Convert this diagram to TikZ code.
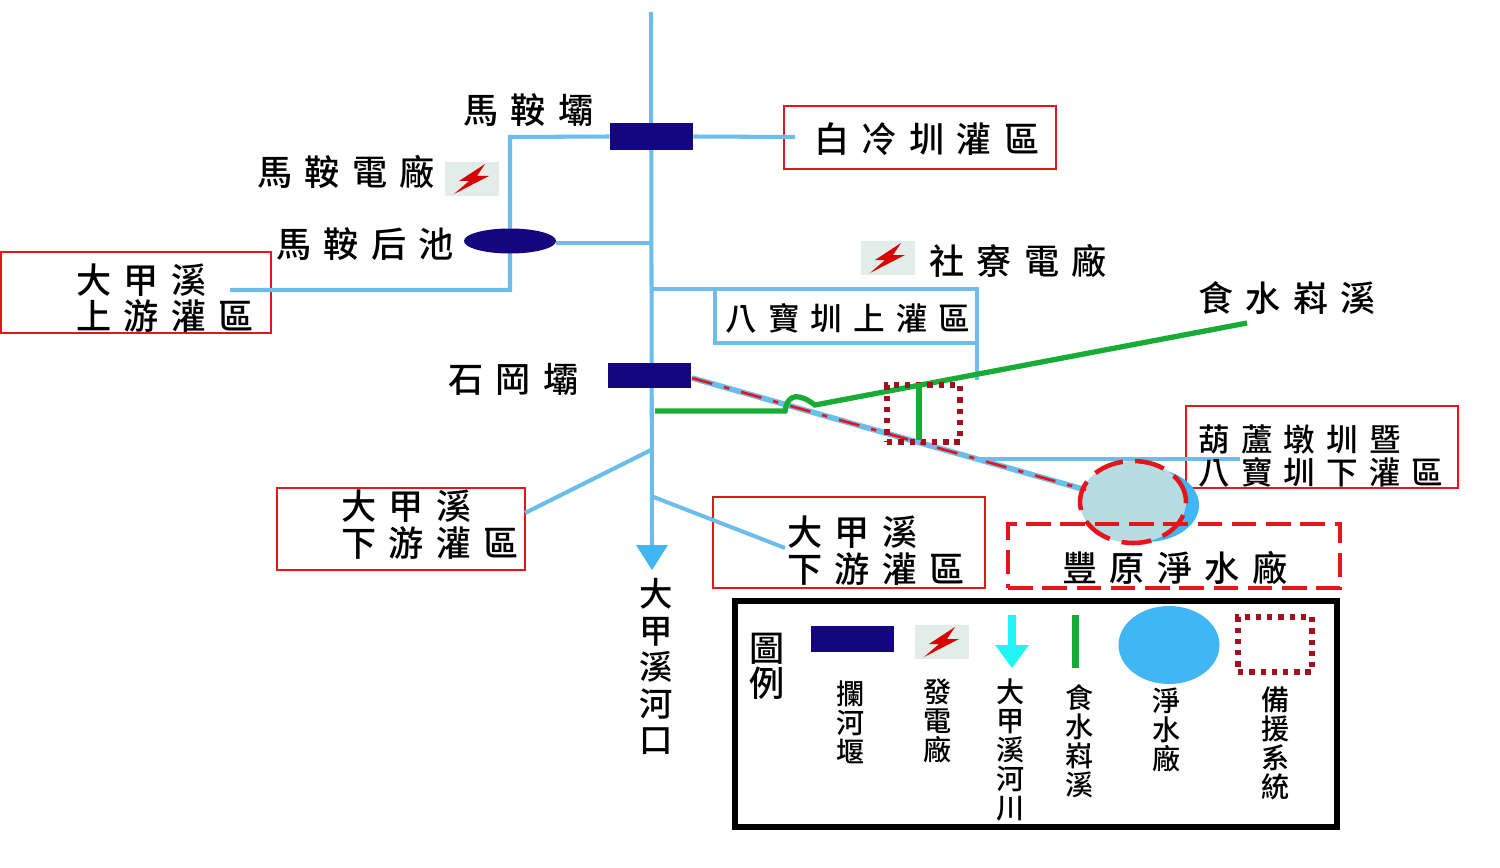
\documentclass[tikz,border=0pt]{standalone}
\usepackage{fontspec}
\usetikzlibrary{shapes.geometric}
\setmainfont{Noto Sans CJK TC Medium}[LetterSpace=35]
\definecolor{riverblue}{HTML}{6CBDEA}
\definecolor{damblue}{HTML}{14067E}
\definecolor{plantblue}{HTML}{41B6F4}
\definecolor{lakegreen}{HTML}{B5DCE0}
\definecolor{streamgreen}{HTML}{17AC35}
\definecolor{boxred}{HTML}{E8141C}
\definecolor{backupred}{HTML}{A3101F}
\definecolor{keycyan}{HTML}{20F4F4}
\definecolor{iconback}{HTML}{E2ECE8}
\tikzset{
  river/.style={draw=riverblue, line width=2.3pt},
  stream/.style={draw=streamgreen, line width=3pt},
  dam/.style={fill=damblue, inner sep=0pt},
  redbox/.style={draw=boxred, line width=1.2pt, inner sep=0pt},
  backupbox/.style={draw=backupred, line width=3.4pt, dash pattern=on 3pt off 3.4pt, inner sep=0pt},
  bigtext/.style={font=\fontsize{20}{22}\selectfont, inner sep=0pt, anchor=west},
  midtext/.style={font=\fontsize{18}{20}\selectfont, inner sep=0pt, anchor=west},
  keytext/.style={font=\fontsize{16}{16.6}\selectfont, inner sep=0pt, align=center, anchor=north},
  bolt/.pic={
    \fill[iconback] (-27,-17) rectangle (27,17);
    \fill[red!85!black] (13,-15) -- (-13,2) -- (-3,2) -- (-18,15) -- (17,-3) -- (5,-3) -- cycle;
  }
}
\begin{document}
\begin{tikzpicture}[x=0.02cm, y=-0.02cm]
  \useasboundingbox (0,0) rectangle (1500,868);

  % main river
  \coordinate (rivertop) at (651,12);
  \coordinate (riverend) at (652,548);
  \draw[river] (rivertop) -- (riverend);
  \fill[plantblue] (636,545) -- (668,545) -- (652,570) -- cycle;

  % upper branches
  \node[dam, minimum width=83*0.02cm, minimum height=27*0.02cm] (madam) at (651.5,136.5) {};
  \node[redbox, minimum width=272*0.02cm, minimum height=63*0.02cm] (baileng) at (920,137.5) {};
  \node[redbox, minimum width=270*0.02cm, minimum height=81*0.02cm] (upper) at (136,292.5) {};
  \coordinate (bend) at (510,137);
  \coordinate (bendlow) at (510,290);
  \coordinate (upperend) at (230,290);
  \coordinate (bailengend) at (795,137);
  \coordinate (pondjoin) at (651,243);
  \draw[river] (madam.west) -- (bend) -- (bendlow) -- (upperend);
  \draw[river] (madam.east) -- (bailengend);
  \node[ellipse, fill=damblue, inner sep=0pt, minimum width=92*0.02cm, minimum height=25*0.02cm] (pond) at (510,241) {};
  \draw[river] (pond.east |- pondjoin) -- (pondjoin);

  % babao loop
  \coordinate (loopa) at (651,289);
  \coordinate (loopb) at (977,289);
  \coordinate (loopc) at (977,380);
  \coordinate (loopd) at (715,289);
  \coordinate (loope) at (715,343);
  \coordinate (loopf) at (977,343);
  \draw[river] (loopa) -- (loopb) -- (loopc);
  \draw[river] (loopd) -- (loope) -- (loopf);

  % lower branches
  \node[dam, minimum width=83*0.02cm, minimum height=25*0.02cm] (shidam) at (649.5,375.5) {};
  \node[redbox, minimum width=248*0.02cm, minimum height=82*0.02cm] (lowleft) at (401,529) {};
  \node[redbox, minimum width=272*0.02cm, minimum height=91*0.02cm] (lowright) at (849,542.5) {};
  \node[redbox, minimum width=272*0.02cm, minimum height=82*0.02cm] (hulu) at (1322,447) {};
  \coordinate (lefta) at (651,450);
  \coordinate (leftb) at (525,513);
  \coordinate (righta) at (651,496);
  \coordinate (rightb) at (785,548);
  \draw[river] (lefta) -- (leftb);
  \draw[river] (righta) -- (rightb);

  % plant
  \node[ellipse, fill=plantblue, inner sep=0pt, minimum width=106*0.02cm, minimum height=74*0.02cm] (plantback) at (1146,505) {};
  \coordinate (diaga) at (692,378);
  \coordinate (diagb) at (1086,490);
  \coordinate (hulua) at (980,459);
  \coordinate (hulub) at (1240,459);
  \draw[river, line width=3.2pt] (diaga) -- (diagb);
  \draw[river] (hulua) -- (hulub);
  \node[ellipse, fill=lakegreen, draw=boxred, line width=2.6pt, dash pattern=on 17pt off 7pt, inner sep=0pt, minimum width=106*0.02cm, minimum height=82*0.02cm] (plant) at (1133,502) {};
  \draw[boxred, line width=1.5pt, dash pattern=on 12pt off 7pt on 3pt off 7pt] (diaga) -- (diagb);
  \node[draw=boxred, line width=2.4pt, dash pattern=on 14pt off 5.5pt, inner sep=0pt, minimum width=332*0.02cm, minimum height=64*0.02cm] (plantbox) at (1174,556) {};

  % stream
  \coordinate (streama) at (655,411);
  \coordinate (streamb) at (785,411);
  \coordinate (streamc) at (815,405);
  \coordinate (streamd) at (1247,323);
  \coordinate (sidea) at (919,383);
  \coordinate (sideb) at (919,440);
  \draw[stream] (streama) -- (streamb) .. controls (788,392) and (800,394) .. (streamc) -- (streamd);
  \node[backupbox, minimum width=73*0.02cm, minimum height=57*0.02cm] (backup) at (923.5,413.5) {};
  \draw[stream] (sidea) -- (sideb);

  % icons
  \pic (boltma) at (472,179) {bolt};
  \pic (boltshe) at (888,258) {bolt};

  % labels
  \node[bigtext] (lma) at (463,110) {馬鞍壩};
  \node[bigtext] (lmp) at (257,172) {馬鞍電廠};
  \node[bigtext] (lmh) at (276,244) {馬鞍后池};
  \node[bigtext] (lbl) at (814,139) {白冷圳灌區};
  \node[bigtext] (lsh) at (929,261) {社寮電廠};
  \node[bigtext] (lsw) at (1198,298) {食水嵙溪};
  \node[bigtext] (lsg) at (448,379) {石岡壩};
  \node[bigtext] (lupa) at (76,280) {大甲溪};
  \node[bigtext] (lupb) at (76,316) {上游灌區};
  \node[midtext] (lbb) at (725,318) {八寶圳上灌區};
  \node[midtext] (lhua) at (1198,440) {葫蘆墩圳暨};
  \node[midtext] (lhub) at (1198,472) {八寶圳下灌區};
  \node[bigtext] (lla) at (341,506) {大甲溪};
  \node[bigtext] (llb) at (341,543) {下游灌區};
  \node[bigtext] (lra) at (787,532) {大甲溪};
  \node[bigtext] (lrb) at (787,569) {下游灌區};
  \node[bigtext] (lpl) at (1062,568) {豐原淨水廠};
  \node[font=\fontsize{19}{20.8}\selectfont, inner sep=0pt, align=center, anchor=north] (lmouth) at (656,578) {大\\甲\\溪\\河\\口};

  % legend
  \node[draw=black, line width=2.9pt, inner sep=0pt, minimum width=602*0.02cm, minimum height=226*0.02cm] (legend) at (1036,714) {};
  \node[font=\fontsize{20}{20}\selectfont, inner sep=0pt, align=center, anchor=north] (lkey) at (767,633) {圖\\例};
  \node[dam, minimum width=83*0.02cm, minimum height=26*0.02cm] (keydam) at (852.5,639) {};
  \pic (keybolt) at (942,642) {bolt};
  \fill[keycyan] (1008,615) rectangle (1016,645);
  \fill[keycyan] (995,645) -- (1029,645) -- (1012,668) -- cycle;
  \coordinate (keya) at (1075,615);
  \coordinate (keyb) at (1075,668);
  \draw[stream, line width=4pt] (keya) -- (keyb);
  \node[ellipse, fill=plantblue, inner sep=0pt, minimum width=101*0.02cm, minimum height=78*0.02cm] (keyplant) at (1169,645) {};
  \node[backupbox, minimum width=74*0.02cm, minimum height=55*0.02cm] (keybackup) at (1275,644.5) {};
  \node[keytext] (tdam) at (851,680) {攔\\河\\堰};
  \node[keytext] (tbolt) at (938,678) {發\\電\\廠};
  \node[keytext] (triver) at (1011,678) {大\\甲\\溪\\河\\川};
  \node[keytext] (tstream) at (1080,684) {食\\水\\嵙\\溪};
  \node[keytext] (tplant) at (1167,687) {淨\\水\\廠};
  \node[keytext] (tback) at (1276,686) {備\\援\\系\\統};
\end{tikzpicture}
\end{document}
